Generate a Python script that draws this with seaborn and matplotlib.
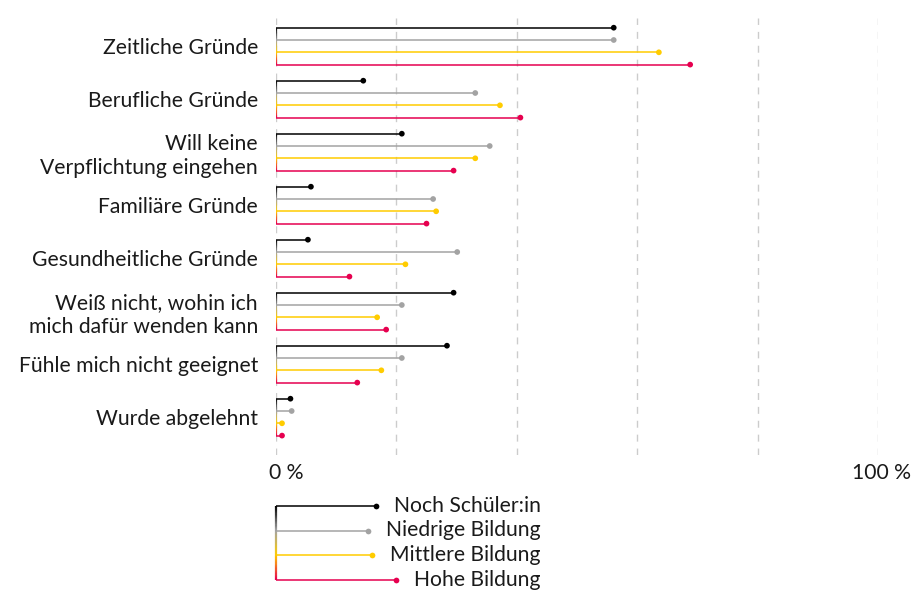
import numpy as np
import pandas as pd
import matplotlib
matplotlib.use("Agg")
import matplotlib.pyplot as plt
import matplotlib.transforms as mtrans
from matplotlib.collections import LineCollection
from matplotlib.colors import to_rgb
import seaborn as sns

# ---------------- data ----------------
categories = [
    "Zeitliche Gründe",
    "Berufliche Gründe",
    "Will keine\nVerpflichtung eingehen",
    "Familiäre Gründe",
    "Gesundheitliche Gründe",
    "Weiß nicht, wohin ich\nmich dafür wenden kann",
    "Fühle mich nicht geeignet",
    "Wurde abgelehnt",
]
series = ["Noch Schüler:in", "Niedrige Bildung", "Mittlere Bildung", "Hohe Bildung"]
noch_schueler = [56.1, 14.5, 20.9, 5.8, 5.3, 29.5, 28.4, 2.4]
niedrige = [56.1, 33.1, 35.5, 26.1, 30.1, 20.9, 20.9, 2.6]
mittlere = [63.6, 37.2, 33.1, 26.6, 21.5, 16.8, 17.5, 1.0]
hohe = [68.8, 40.6, 29.5, 25.0, 12.2, 18.3, 13.5, 1.0]
x_ticks = [0, 20, 40, 60, 80, 100]
x_tick_labels = ["0 %", "", "", "", "", "100 %"]

colors = ["#000000", "#a3a3a3", "#ffcc00", "#e6004f"]

# ---------------- style ----------------
sns.set_theme(style="white")
plt.rcParams["font.family"] = ["Lato", "DejaVu Sans"]
TXT = "#1a1a1a"
FS = 15.2

GROUP_STEP = 53.0
ROW_STEP = 12.3

rows = []
for s_i, (s, vals) in enumerate(zip(series, [noch_schueler, niedrige, mittlere, hohe])):
    for c_i, (c, v) in enumerate(zip(categories, vals)):
        rows.append({"category": c, "series": s, "value": v,
                     "y": c_i * GROUP_STEP + s_i * ROW_STEP})
df = pd.DataFrame(rows)

W, H = 912, 591
fig = plt.figure(figsize=(W / 100, H / 100), dpi=100)
ax = fig.add_axes([276 / W, 1 - 455 / H, (878 - 276) / W, (455 - 18) / H])
ax.set_xlim(0, 100)
ax.set_ylim(455 - 27.7, 18 - 27.7)

# grid
for gx in x_ticks:
    ax.axvline(gx, color="#cccccc", lw=1.0, ls=(0, (5, 5)), zorder=0)


def gradient_vline(axis, x, y0, ystep, cols, lw, zorder=2):
    ys = [y0 + k * ystep for k in range(len(cols))]
    rgb = np.array([to_rgb(c) for c in cols])
    n = 60
    yy = np.linspace(ys[0], ys[-1], n + 1)
    segs, segcols = [], []
    for k in range(n):
        ym = 0.5 * (yy[k] + yy[k + 1])
        col = [np.interp(ym, ys, rgb[:, ch]) for ch in range(3)]
        segs.append([(x, yy[k]), (x, yy[k + 1])])
        segcols.append(col)
    lc = LineCollection(segs, colors=segcols, linewidths=lw, zorder=zorder,
                        capstyle="butt")
    axis.add_collection(lc)


# stems
for s_i, s in enumerate(series):
    d = df[df["series"] == s]
    ax.hlines(d["y"], 0, d["value"], color=colors[s_i], lw=1.1, zorder=3)

for c_i in range(len(categories)):
    gradient_vline(ax, 0, c_i * GROUP_STEP, ROW_STEP, colors, 1.6, zorder=4)

sns.scatterplot(data=df, x="value", y="y", hue="series", hue_order=series,
                palette=colors, s=17, linewidth=0, legend=False, ax=ax, zorder=5)

# axes cosmetics
centers = [c_i * GROUP_STEP + 1.5 * ROW_STEP for c_i in range(len(categories))]
ax.set_yticks(centers)
ax.set_yticklabels(categories, fontsize=FS, color=TXT, linespacing=1.25)
ax.set_xticks(x_ticks)
ax.set_xticklabels(x_tick_labels, fontsize=FS, color=TXT)
ax.tick_params(axis="y", length=0, pad=13)
ax.tick_params(axis="x", length=0, pad=6)
xlabs = ax.get_xticklabels()
xlabs[0].set_transform(xlabs[0].get_transform() +
                       mtrans.ScaledTranslation(10 / 100, 0, fig.dpi_scale_trans))
xlabs[-1].set_transform(xlabs[-1].get_transform() +
                        mtrans.ScaledTranslation(4 / 100, 0, fig.dpi_scale_trans))
ax.set_xlabel("")
ax.set_ylabel("")
for sp in ax.spines.values():
    sp.set_visible(False)
ax.grid(False)

# ---------------- legend ----------------
lax = fig.add_axes([0, 0, 1, 1])
lax.set_xlim(0, W)
lax.set_ylim(H, 0)
lax.axis("off")
fig.canvas.draw()
renderer = fig.canvas.get_renderer()
leg_y0, leg_step = 506.0, 24.5
for s_i, s in enumerate(series):
    yv = leg_y0 + s_i * leg_step
    t = lax.text(541, yv, s, ha="right", va="center", fontsize=FS, color=TXT)
    bb = t.get_window_extent(renderer=renderer)
    x_end = bb.x0 - 18
    lax.plot([276, x_end], [yv, yv], color=colors[s_i], lw=1.1, zorder=3,
             solid_capstyle="butt")
    lax.scatter([x_end], [yv], color=colors[s_i], s=17, linewidths=0, zorder=5)
gradient_vline(lax, 276, leg_y0, leg_step, colors, 1.6, zorder=4)

fig.savefig("out.png", dpi=100)
